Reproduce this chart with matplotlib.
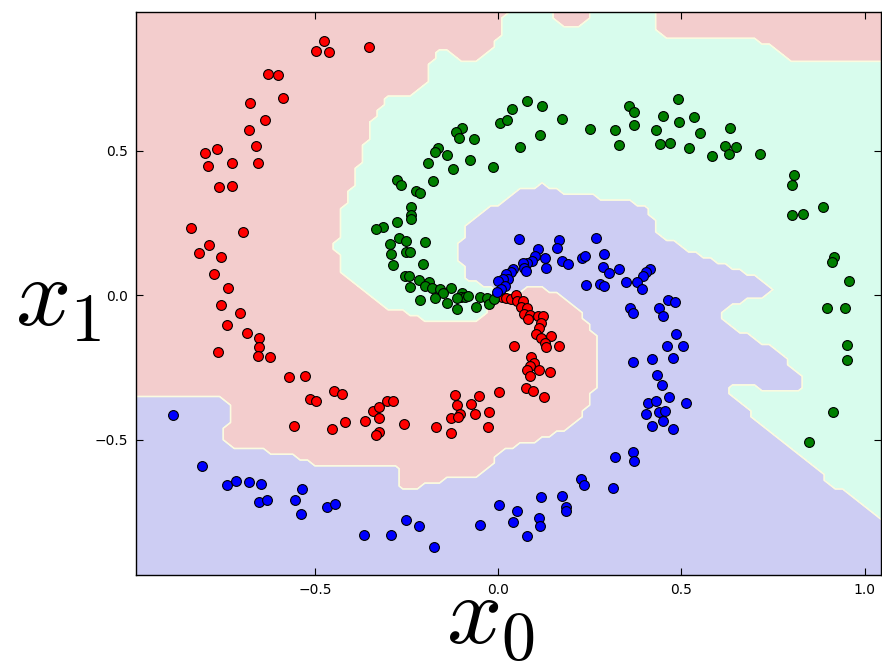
import numpy as np
import matplotlib
matplotlib.use("Agg")
from matplotlib import pyplot as plt
from matplotlib.path import Path

plt.rcParams['mathtext.fontset'] = 'cm'

# spiral points (class 0 red, 1 green, 2 blue)
red_x = [-0.474, -0.497, -0.461, -0.353, -0.628, -0.601, -0.678, -0.587, -0.637, -0.681,
         -0.767, -0.801, -0.660, -0.791, -0.727, -0.655, -0.762, -0.726, -0.838, -0.695,
         -0.789, -0.816, -0.757, -0.775, -0.737, -0.757, -0.705, -0.741, -0.685, -0.651,
         -0.652, -0.764, -0.654, -0.621, -0.571, -0.527, -0.514, -0.497, -0.448, -0.427,
         -0.557, -0.452, -0.419, -0.362, -0.341, -0.325, -0.326, -0.326, -0.332, -0.302,
         -0.288, -0.118, -0.052, 0.003, 0.076, 0.095, 0.126, -0.113, -0.075, -0.103,
         -0.128, -0.109, -0.064, -0.026, -0.257, -0.168, -0.129, -0.027, -0.002, 0.012,
         0.023, 0.035, 0.050, 0.053, 0.067, 0.062, 0.078, 0.071, 0.087, 0.083,
         0.110, 0.123, 0.118, 0.113, 0.104, 0.117, 0.145, 0.127, 0.130, 0.166,
         0.043, 0.089, 0.099, 0.087, 0.078, 0.113, 0.143, 0.087]
red_y = [0.881, 0.845, 0.842, 0.861, 0.767, 0.762, 0.666, 0.682, 0.607, 0.572,
         0.508, 0.492, 0.517, 0.448, 0.457, 0.457, 0.374, 0.380, 0.232, 0.218,
         0.173, 0.148, 0.133, 0.073, 0.024, -0.033, -0.061, -0.102, -0.130, -0.147,
         -0.180, -0.195, -0.209, -0.213, -0.282, -0.279, -0.358, -0.365, -0.330, -0.341,
         -0.452, -0.462, -0.438, -0.434, -0.400, -0.386, -0.425, -0.473, -0.483, -0.365,
         -0.367, -0.344, -0.350, -0.333, -0.321, -0.330, -0.352, -0.378, -0.376, -0.410,
         -0.426, -0.421, -0.409, -0.402, -0.446, -0.455, -0.477, -0.454, 0.001, -0.005,
         -0.008, -0.014, 0.001, -0.019, -0.019, -0.040, -0.042, -0.066, -0.068, -0.083,
         -0.071, -0.071, -0.094, -0.114, -0.135, -0.149, -0.139, -0.166, -0.179, -0.175,
         -0.176, -0.213, -0.234, -0.244, -0.259, -0.258, -0.266, -0.280]

green_x = [-0.238, -0.238, -0.238, -0.276, -0.270, -0.250, -0.296, -0.200, -0.293, -0.252,
           -0.241, -0.287, -0.206, -0.255, -0.243, -0.217, -0.188, -0.199, -0.241, -0.179,
           -0.159, -0.129, -0.150, -0.099, -0.101, -0.091, -0.081, -0.113, -0.172, -0.213,
           -0.140, -0.113, -0.050, -0.029, -0.026, -0.061, -0.011, -0.315, -0.334, 0.078,
           0.037, 0.121, 0.006, 0.025, 0.175, -0.099, -0.115, -0.107, -0.066, 0.114,
           0.061, 0.250, 0.320, 0.330, 0.357, 0.371, 0.371, -0.163, -0.172, -0.139,
           -0.192, -0.076, -0.124, -0.015, -0.177, -0.277, -0.266, -0.225, -0.214, 0.490,
           0.450, 0.535, 0.494, 0.432, 0.552, 0.633, 0.442, 0.470, 0.520, 0.585,
           0.619, 0.648, 0.630, 0.716, 0.808, 0.801, 0.801, 0.831, 0.888, 0.918,
           0.911, 0.957, 0.897, 0.947, 0.952, 0.952, 0.915, 0.849]
green_y = [0.305, 0.278, 0.264, 0.253, 0.197, 0.189, 0.177, 0.186, 0.143, 0.151,
           0.149, 0.105, 0.108, 0.067, 0.067, 0.053, 0.047, 0.033, 0.028, 0.024,
           0.021, 0.025, 0.007, 0.007, -0.005, -0.005, -0.001, -0.010, -0.010, -0.016,
           -0.028, -0.048, -0.005, -0.010, -0.030, -0.040, -0.014, 0.238, 0.230, 0.673,
           0.645, 0.656, 0.597, 0.606, 0.612, 0.579, 0.566, 0.545, 0.542, 0.554,
           0.513, 0.575, 0.574, 0.520, 0.656, 0.635, 0.589, 0.511, 0.497, 0.486,
           0.457, 0.470, 0.439, 0.445, 0.397, 0.399, 0.382, 0.362, 0.355, 0.679,
           0.622, 0.618, 0.600, 0.572, 0.562, 0.580, 0.524, 0.528, 0.509, 0.482,
           0.516, 0.514, 0.488, 0.491, 0.417, 0.383, 0.278, 0.283, 0.305, 0.134,
           0.114, 0.049, -0.045, -0.045, -0.172, -0.223, -0.402, -0.507]

blue_x = [0.057, 0.165, 0.162, 0.267, 0.108, 0.102, 0.128, 0.289, 0.092, 0.080,
          0.067, 0.175, 0.192, 0.230, 0.237, 0.130, 0.071, 0.076, 0.042, 0.035,
          0.022, 0.287, 0.303, 0.330, 0.026, 0.013, -0.001, 0.019, 0.007, -0.002,
          0.239, 0.278, 0.290, 0.350, 0.360, 0.367, 0.367, 0.414, 0.403, 0.396,
          0.380, 0.392, 0.463, 0.483, 0.440, 0.449, 0.486, 0.461, 0.505, 0.419,
          0.478, 0.434, 0.448, 0.467, 0.410, 0.430, 0.513, 0.403, 0.438, 0.456,
          0.449, 0.419, 0.478, 0.367, 0.370, 0.320, 0.227, 0.235, 0.313, 0.117,
          0.175, 0.185, 0.186, 0.003, 0.053, 0.112, 0.040, 0.114, 0.079, -0.251,
          -0.217, -0.049, -0.292, -0.176, -0.888, -0.807, -0.739, -0.714, -0.681, -0.647,
          -0.653, -0.631, -0.535, -0.555, -0.539, -0.468, -0.444, -0.366]
blue_y = [0.194, 0.192, 0.165, 0.199, 0.159, 0.137, 0.128, 0.143, 0.119, 0.113,
          0.113, 0.119, 0.108, 0.128, 0.136, 0.095, 0.094, 0.084, 0.091, 0.082,
          0.074, 0.098, 0.076, 0.090, 0.057, 0.057, 0.051, 0.033, 0.021, 0.013,
          0.036, 0.039, 0.032, 0.045, -0.045, -0.060, -0.230, 0.091, 0.080, 0.066,
          0.045, 0.022, -0.016, -0.022, -0.045, -0.072, -0.135, -0.176, -0.176, -0.220,
          -0.217, -0.276, -0.310, -0.352, -0.373, -0.367, -0.374, -0.409, -0.402, -0.400,
          -0.436, -0.452, -0.464, -0.543, -0.575, -0.561, -0.636, -0.656, -0.668, -0.698,
          -0.695, -0.733, -0.745, -0.727, -0.746, -0.769, -0.786, -0.799, -0.834, -0.778,
          -0.799, -0.796, -0.828, -0.871, -0.414, -0.590, -0.658, -0.641, -0.647, -0.654,
          -0.716, -0.709, -0.671, -0.707, -0.758, -0.731, -0.723, -0.831]

# decision-region outlines
red_edge_x = [-1.1, 0.035, 0.013, -0.015, -0.061, -0.088, -0.135, -0.156, -0.170, -0.189,
              -0.206, -0.223, -0.300, -0.314, -0.323, -0.341, -0.355, -0.368, -0.377, -0.391,
              -0.405, -0.418, -0.427, -0.437, -0.443, -0.429, -0.407, -0.353, -0.306, -0.279,
              -0.162, -0.061, -0.034, -0.006, -0.002, 0.057, 0.103, 0.166, 0.203, 0.239,
              0.267, 0.271, 0.258, 0.245, 0.231, 0.185, 0.122, 0.084, 0.040, -0.006,
              -0.015, -0.069, -0.135, -0.170, -0.216, -0.260, -0.274, -0.306, -0.361, -0.424,
              -0.470, -0.533, -0.579, -0.642, -0.688, -0.724, -0.748, -0.743, -0.735, -0.724,
              -0.729, -0.770, -0.798, -1.1]
red_edge_y = [1.1, 1.1, 0.922, 0.853, 0.801, 0.801, 0.846, 0.850, 0.832, 0.774,
              0.715, 0.701, 0.694, 0.677, 0.648, 0.613, 0.555, 0.509, 0.463, 0.405,
              0.359, 0.313, 0.267, 0.220, 0.167, 0.088, 0.053, -0.006, -0.044, -0.051,
              -0.096, -0.093, -0.051, -0.013, 0.005, 0.018, 0.028, 0.013, -0.028, -0.086,
              -0.155, -0.317, -0.321, -0.380, -0.425, -0.460, -0.494, -0.512, -0.522, -0.553,
              -0.588, -0.640, -0.633, -0.643, -0.668, -0.668, -0.598, -0.581, -0.591, -0.598,
              -0.598, -0.564, -0.553, -0.539, -0.529, -0.522, -0.501, -0.460, -0.435, -0.390,
              -0.366, -0.349, -0.345, -0.356]
red_top_x = [0.147, 0.158, 0.177, 0.212, 0.248, 0.275]
red_top_y = [1.1, 0.954, 0.929, 0.929, 0.954, 1.1]
red_corner_x = [0.436, 0.438, 0.449, 0.471, 0.575, 0.640, 0.695, 0.739, 0.766, 0.804,
                0.839, 0.921, 1.047, 1.1, 1.1]
red_corner_y = [1.1, 0.922, 0.895, 0.881, 0.895, 0.895, 0.885, 0.867, 0.850, 0.808,
                0.801, 0.801, 0.808, 0.810, 1.1]
blue_edge_x = [-0.002, -0.015, -0.061, -0.088, -0.106, -0.097, -0.079, -0.034, 0.021, 0.057,
               0.122, 0.149, 0.204, 0.349, 0.376, 0.417, 0.425, 0.439, 0.466, 0.559,
               0.640, 0.711, 0.758, 0.750, 0.676, 0.629, 0.602, 0.629, 0.676, 0.739,
               0.785, 0.831, 0.839, 0.842, 0.758, 0.686, 0.616, 0.640, 0.667, 0.758,
               0.866, 0.902, 1.011, 1.047, 1.1]
blue_edge_y = [0.005, 0.024, 0.042, 0.064, 0.122, 0.215, 0.249, 0.296, 0.330, 0.368,
               0.382, 0.375, 0.347, 0.330, 0.313, 0.296, 0.250, 0.216, 0.192, 0.133,
               0.098, 0.063, 0.025, 0.008, -0.016, -0.041, -0.068, -0.110, -0.131, -0.179,
               -0.224, -0.283, -0.318, -0.330, -0.328, -0.314, -0.311, -0.356, -0.384, -0.488,
               -0.598, -0.643, -0.747, -0.782, -0.820]

fill_colors = ['#f3cdcd', '#d8fced', '#cdcdf3']
dot_colors = ['#ff0000', '#007f00', '#0000ff']

# class map on a grid
h = 0.02
xx, yy = np.meshgrid(np.arange(-1.04, 1.1, h), np.arange(-1.02, 1.04, h))
grid = np.c_[xx.ravel(), yy.ravel()]

n_red = 34  # junction index in red_edge (pink/blue part starts here)
lower_x = red_edge_x[n_red:]
lower_y = red_edge_y[n_red:]
green_poly = list(zip(blue_edge_x, blue_edge_y)) + [(1.1, 1.1), (-1.1, 1.1)] + \
    list(zip(lower_x[::-1], lower_y[::-1]))

Z = np.full(grid.shape[0], 2)
Z[Path(green_poly).contains_points(grid)] = 1
for px, py in [(red_edge_x, red_edge_y), (red_top_x, red_top_y), (red_corner_x, red_corner_y)]:
    Z[Path(list(zip(px, py))).contains_points(grid)] = 0
Z = Z.reshape(xx.shape)

fig = plt.figure(figsize=(8.82, 6.62), dpi=100)
ax = fig.add_axes([136 / 882, 87 / 662, 745 / 882, 563 / 662])
ax.set_facecolor(fill_colors[2])

for k in range(3):
    mask = (Z == k).astype(float)
    ax.contourf(xx, yy, mask, levels=[0.5, 1.5], colors=[fill_colors[k]])
for k in range(3):
    mask = (Z == k).astype(float)
    ax.contour(xx, yy, mask, levels=[0.5], colors=['#fbfbe0'], linewidths=1.0)

for xs, ys, c in [(red_x, red_y, dot_colors[0]), (green_x, green_y, dot_colors[1]),
                  (blue_x, blue_y, dot_colors[2])]:
    ax.scatter(xs, ys, s=50, c=c, edgecolors='black', linewidths=0.8, zorder=3)

ax.set_xlim(-0.988, 1.045)
ax.set_ylim(-0.968, 0.981)
ax.set_xticks([-0.5, 0.0, 0.5, 1.0])
ax.set_yticks([-0.5, 0.0, 0.5])
ax.tick_params(direction='in', top=True, right=True, length=5, width=0.8,
               labelsize=10, pad=6)
for s in ax.spines.values():
    s.set_linewidth(1.0)

ax.set_xlabel('$x_0$', fontsize=70, va='center')
ax.xaxis.set_label_coords(0.475, -0.078)
ax.set_ylabel('$x_1$', fontsize=70, rotation=0, va='center', ha='center')
ax.yaxis.set_label_coords(-0.104, 0.49)

fig.savefig('out.png', dpi=100)
